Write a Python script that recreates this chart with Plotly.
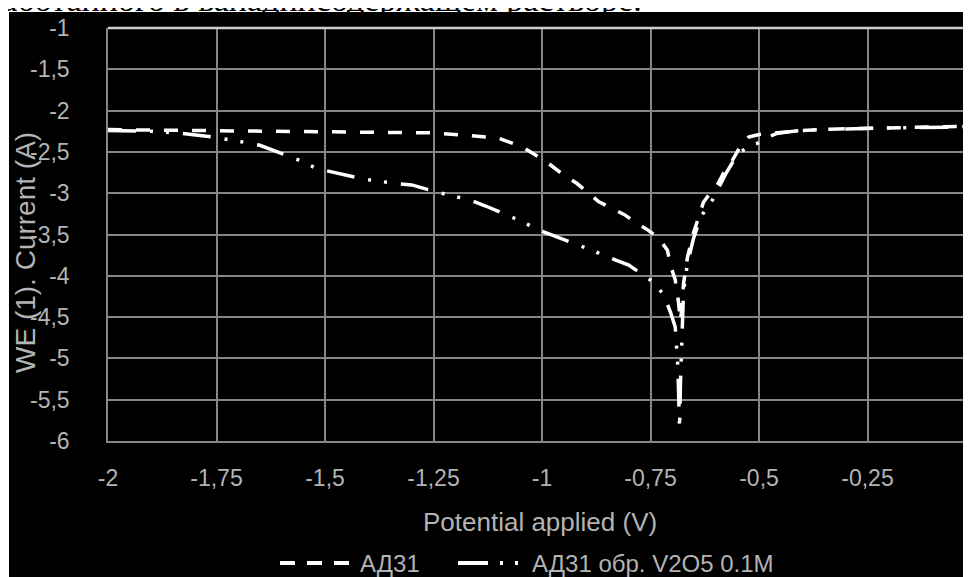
import plotly.graph_objects as go

# ---------------- data ----------------
series_names = ["АД31", "АД31 обр. V2O5 0.1M"]

ad31_x = [-2.0, -1.9, -1.75, -1.6, -1.5, -1.4, -1.25, -1.17, -1.10, -1.045, -0.99, -0.95,
          -0.92, -0.87, -0.84, -0.81, -0.785, -0.755, -0.732, -0.711, -0.704, -0.693,
          -0.686, -0.681, -0.678, -0.674, -0.665, -0.651, -0.639, -0.628, -0.61, -0.596,
          -0.582, -0.561, -0.545, -0.524, -0.50, -0.457, -0.40, -0.30, -0.20, -0.10, -0.02]
ad31_y = [-2.23, -2.235, -2.24, -2.245, -2.25, -2.255, -2.27, -2.30, -2.335, -2.44, -2.62, -2.78,
          -2.88, -3.10, -3.18, -3.26, -3.35, -3.45, -3.54, -3.69, -3.87, -4.05,
          -4.30, -4.55, -4.40, -4.10, -3.78, -3.48, -3.29, -3.11, -2.98, -2.90,
          -2.76, -2.60, -2.45, -2.32, -2.29, -2.27, -2.24, -2.22, -2.21, -2.20, -2.19]

v2o5_x = [-2.0, -1.9, -1.83, -1.76, -1.69, -1.65, -1.59, -1.55, -1.52, -1.48, -1.41, -1.34,
          -1.30, -1.24, -1.20, -1.165, -1.13, -1.065, -1.0, -0.964, -0.90, -0.83, -0.80,
          -0.74, -0.72, -0.704, -0.693, -0.687, -0.683, -0.681, -0.678, -0.674, -0.665,
          -0.651, -0.635, -0.62, -0.607, -0.593, -0.575, -0.56, -0.542, -0.52, -0.503,
          -0.48, -0.457, -0.42, -0.393, -0.33, -0.262, -0.15, -0.059, -0.017]
v2o5_y = [-2.24, -2.25, -2.275, -2.32, -2.38, -2.42, -2.54, -2.62, -2.70, -2.745, -2.83, -2.88,
          -2.90, -2.99, -3.035, -3.083, -3.155, -3.30, -3.46, -3.53, -3.66, -3.81, -3.87,
          -4.09, -4.23, -4.44, -4.62, -5.1, -5.85, -5.3, -4.8, -4.2, -3.85,
          -3.55, -3.30, -3.17, -3.08, -2.93, -2.75, -2.62, -2.50, -2.42, -2.395,
          -2.32, -2.274, -2.25, -2.238, -2.225, -2.214, -2.205, -2.202, -2.19]

x_tick_vals = [-2, -1.75, -1.5, -1.25, -1, -0.75, -0.5, -0.25, 0]
x_tick_text = ["-2", "-1,75", "-1,5", "-1,25", "-1", "-0,75", "-0,5", "-0,25", "0"]
y_tick_vals = [-1, -1.5, -2, -2.5, -3, -3.5, -4, -4.5, -5, -5.5, -6]
y_tick_text = ["-1", "-1,5", "-2", "-2,5", "-3", "-3,5", "-4", "-4,5", "-5", "-5,5", "-6"]

x_title = "Potential applied (V)"
y_title = "WE (1). Current (A)"
top_text = "обработанного в ванадийсодержащем растворе."

# ---------------- layout geometry ----------------
# The page body has an 8px margin, so figure pixel = screen pixel - 8.
OFF = 8
W, H = 971, 577
ML, MR, MT, MB = 100, 0, 20, 144
PW, PH = W - ML - MR, H - MT - MB
PX_PER_UNIT = 434.0
x_range = [-2, -2 + PW / PX_PER_UNIT]


def px(sx):
    return (sx - OFF - ML) / PW


def py(sy):
    return (MT + PH - (sy - OFF)) / PH


FONT = "Liberation Sans, Arial, sans-serif"
GREY_TEXT = "#b3b3b3"
GRID = "#868686"

DASH_A = "14px,14px"
DASH_B = "28px,14px,3px,13px,3px,14px"

fig = go.Figure()
fig.add_trace(go.Scatter(x=ad31_x, y=ad31_y, mode="lines", name=series_names[0],
                         line=dict(color="white", width=3.5, dash=DASH_A), showlegend=False))
fig.add_trace(go.Scatter(x=v2o5_x, y=v2o5_y, mode="lines", name=series_names[1],
                         line=dict(color="white", width=3.5, dash=DASH_B), showlegend=False))

shapes = [
    # white band at top and strip at left (page background around the chart)
    dict(type="rect", xref="paper", yref="paper", x0=px(0), x1=px(W + 20), y0=py(12), y1=py(-5),
         fillcolor="white", line=dict(width=0), layer="above"),
    dict(type="rect", xref="paper", yref="paper", x0=px(-5), x1=px(9), y0=py(H + 20), y1=py(-5),
         fillcolor="white", line=dict(width=0), layer="above"),
    # brighter top border
    dict(type="line", xref="paper", yref="paper", x0=0, x1=1, y0=1, y1=1,
         line=dict(color="#cfcfcf", width=2.5), layer="above"),
    # legend samples
    dict(type="line", xref="paper", yref="paper", x0=px(280), x1=px(350), y0=py(563), y1=py(563),
         line=dict(color="white", width=4, dash="15px,12px")),
    dict(type="line", xref="paper", yref="paper", x0=px(458), x1=px(522), y0=py(563), y1=py(563),
         line=dict(color="white", width=4, dash="30px,12px,3px,12px,3px,12px")),
]

annotations = [
    dict(text=top_text, xref="paper", yref="paper", x=px(644), y=py(20), xanchor="right",
         yanchor="bottom", showarrow=False,
         font=dict(family="Liberation Serif, Times New Roman, serif", size=34, color="black")),
    dict(text=x_title, xref="paper", yref="paper", x=px(540), y=py(522), xanchor="center",
         yanchor="middle", showarrow=False, font=dict(family=FONT, size=26, color=GREY_TEXT)),
    dict(text=y_title, xref="paper", yref="paper", x=px(25), y=py(253), xanchor="center",
         yanchor="middle", textangle=-90, showarrow=False,
         font=dict(family=FONT, size=28, color=GREY_TEXT)),
    dict(text=series_names[0], xref="paper", yref="paper", x=px(358), y=py(563), xanchor="left",
         yanchor="middle", showarrow=False, font=dict(family=FONT, size=24, color=GREY_TEXT)),
    dict(text=series_names[1], xref="paper", yref="paper", x=px(530), y=py(563), xanchor="left",
         yanchor="middle", showarrow=False, font=dict(family=FONT, size=24, color=GREY_TEXT)),
]

fig.update_layout(
    width=W, height=H,
    margin=dict(l=ML, r=MR, t=MT, b=MB, autoexpand=False),
    paper_bgcolor="black", plot_bgcolor="black",
    showlegend=False,
    shapes=shapes,
    annotations=annotations,
    xaxis=dict(range=x_range, tickvals=x_tick_vals, ticktext=x_tick_text,
               showgrid=True, gridcolor=GRID, gridwidth=1.5, zeroline=False,
               showline=True, linecolor=GRID, linewidth=1.5, mirror=False,
               ticks="outside", ticklen=16, tickcolor="rgba(0,0,0,0)",
               tickfont=dict(family=FONT, size=23, color=GREY_TEXT)),
    yaxis=dict(range=[-6, -1], tickvals=y_tick_vals, ticktext=y_tick_text,
               showgrid=True, gridcolor=GRID, gridwidth=1.5, zeroline=False,
               showline=True, linecolor=GRID, linewidth=1.5,
               ticks="outside", ticklen=32, tickcolor="rgba(0,0,0,0)",
               tickfont=dict(family=FONT, size=23, color=GREY_TEXT)),
)

fig.write_html("out.html")
